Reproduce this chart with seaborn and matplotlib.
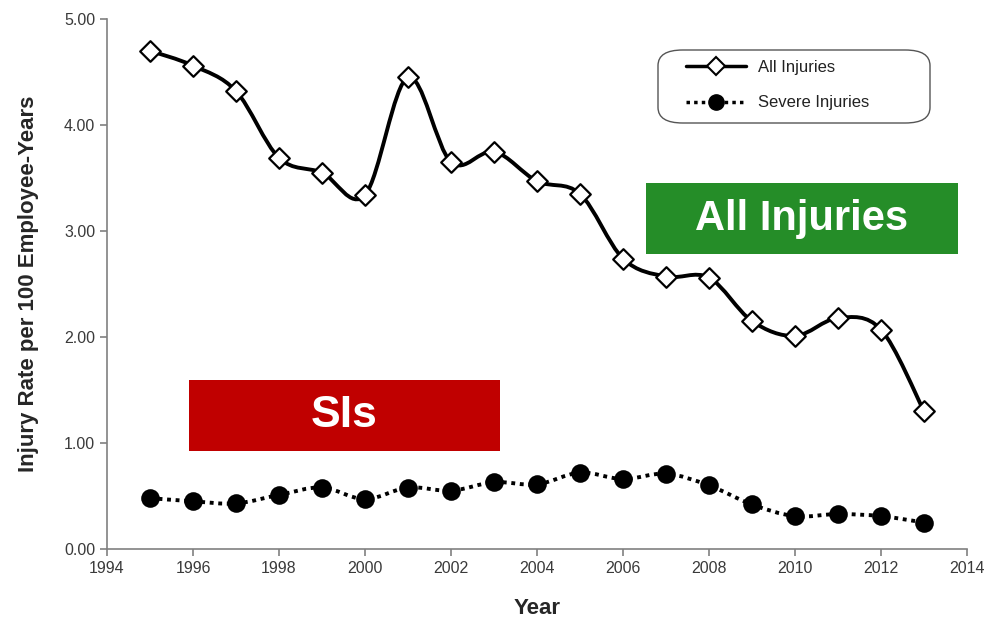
import numpy as np
import pandas as pd
import seaborn as sns
import matplotlib
matplotlib.use("Agg")
import matplotlib.pyplot as plt
from matplotlib.path import Path
from matplotlib.patches import PathPatch, Rectangle, FancyBboxPatch
from matplotlib.lines import Line2D
from matplotlib.ticker import FormatStrFormatter

# data
years = list(range(1995, 2014))
all_injuries = [4.70, 4.56, 4.32, 3.69, 3.55, 3.34, 4.45, 3.65, 3.75, 3.47,
                3.35, 2.74, 2.57, 2.56, 2.15, 2.01, 2.18, 2.07, 1.30]
severe_injuries = [0.48, 0.45, 0.43, 0.51, 0.58, 0.47, 0.58, 0.55, 0.63, 0.61,
                   0.72, 0.66, 0.71, 0.60, 0.42, 0.31, 0.33, 0.31, 0.25]
x_ticks = list(range(1994, 2015, 2))
y_ticks = [0, 1, 2, 3, 4, 5]

df = pd.DataFrame({'year': years, 'all': all_injuries, 'severe': severe_injuries})


def smooth_path(x, y):
    # excel style smoothed line: cubic bezier segments through the points
    pts = np.column_stack([x, y]).astype(float)
    ext = np.vstack([pts[0], pts, pts[-1]])
    verts = [pts[0]]
    codes = [Path.MOVETO]
    for i in range(len(pts) - 1):
        p0, p1, p2, p3 = ext[i], ext[i + 1], ext[i + 2], ext[i + 3]
        c1 = p1 + (p2 - p0) / 6
        c2 = p2 - (p3 - p1) / 6
        verts += [c1, c2, p2]
        codes += [Path.CURVE4] * 3
    return Path(verts, codes)


sns.set_style('ticks')
plt.rcParams['font.family'] = ['Liberation Sans', 'DejaVu Sans']

fig = plt.figure(figsize=(9.89, 6.23), dpi=100)
ax = fig.add_axes([107 / 989, 74 / 623, 860 / 989, 530 / 623])

ax.add_patch(PathPatch(smooth_path(df['year'], df['all']), fill=False,
                       edgecolor='black', lw=2.8, zorder=2))
ax.add_patch(PathPatch(smooth_path(df['year'], df['severe']), fill=False,
                       edgecolor='black', lw=2.8, linestyle=(0, (1, 1.2)), zorder=2))

sns.scatterplot(x='year', y='all', data=df, ax=ax, marker='D', s=110,
                color='white', edgecolor='black', linewidth=1.6, zorder=3)
sns.scatterplot(x='year', y='severe', data=df, ax=ax, marker='o', s=180,
                color='black', edgecolor='black', linewidth=0, zorder=3)

ax.set_xlim(1994, 2014)
ax.set_ylim(0, 5)
ax.set_xticks(x_ticks)
ax.set_yticks(y_ticks)
ax.yaxis.set_major_formatter(FormatStrFormatter('%.2f'))
sns.despine(ax=ax)
for s in ['left', 'bottom']:
    ax.spines[s].set_color('#808080')
    ax.spines[s].set_linewidth(1.2)
ax.tick_params(colors='#808080', labelcolor='#3a3a3a', labelsize=11.5,
               length=5, width=1.2)

ax.set_xlabel('Year', fontsize=16, fontweight='bold', labelpad=16)
ax.set_ylabel('Injury Rate per 100 Employee-Years', fontsize=16,
              fontweight='bold', labelpad=18)

# legend: frameless, with a rounded box drawn behind it
fig.patches.append(FancyBboxPatch((658 / 989, 1 - 123 / 623), 272 / 989, 73 / 623,
                                  boxstyle='round,pad=0,rounding_size=0.025',
                                  transform=fig.transFigure, facecolor='white',
                                  edgecolor='#555555', linewidth=1.0, zorder=4))
handles = [
    Line2D([], [], color='black', lw=2.5, marker='D', markersize=9,
           markerfacecolor='white', markeredgecolor='black', markeredgewidth=1.5),
    Line2D([], [], color='black', lw=2.5, linestyle=(0, (1, 1.2)), marker='o',
           markersize=11, markerfacecolor='black', markeredgecolor='black'),
]
leg = fig.legend(handles, ['All Injuries', 'Severe Injuries'],
                 loc='center left', bbox_to_anchor=(686 / 989, 1 - 85 / 623),
                 fontsize=12, frameon=False, handlelength=3.6, borderpad=0,
                 labelspacing=1.25, handletextpad=0.75, borderaxespad=0)
leg.set_zorder(5)
for t in leg.get_texts():
    t.set_color('#222222')

# highlight boxes
boxes = [
    (646, 183, 312, 71, '#258D28', 'All Injuries', 30),
    (189, 380, 311, 71, '#C00000', 'SIs', 32),
]
for px, py, pw, ph, col, label, fs in boxes:
    bx, by, bw, bh = px / 989, 1 - (py + ph) / 623, pw / 989, ph / 623
    fig.patches.append(Rectangle((bx, by), bw, bh, transform=fig.transFigure,
                                 facecolor=col, edgecolor='none', zorder=5))
    fig.text(bx + bw / 2, by + bh / 2, label, color='white', fontsize=fs,
             fontweight='bold', ha='center', va='center', zorder=6)

fig.savefig('out.png', dpi=100)
